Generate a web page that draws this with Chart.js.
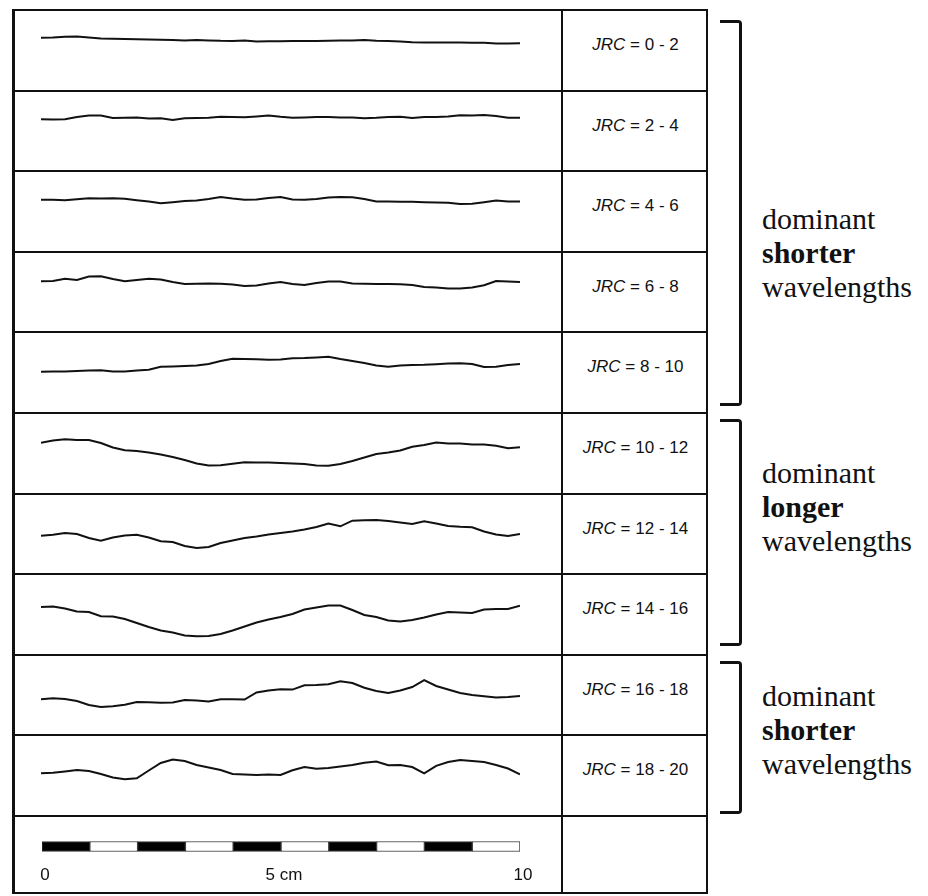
<!DOCTYPE html>
<html>
<head>
<meta charset="utf-8">
<script src="https://cdn.jsdelivr.net/npm/chart.js@4.4.1/dist/chart.umd.min.js"></script>
<style>
  body { margin: 0; background: #fff; width: 928px; height: 896px; position: relative; overflow: hidden; }
  .box { position: absolute; left: 12px; top: 9px; width: 696px; height: 885px; box-sizing: border-box;
         border: 2px solid #111; border-left-width: 3px; }
  .hline { position: absolute; left: 12px; width: 696px; height: 2px; background: #111; }
  .vline { position: absolute; left: 561px; top: 9px; width: 2px; height: 885px; background: #111; }
  .jrc { position: absolute; left: 563px; width: 145px; text-align: center; font: 17px "Liberation Sans", Arial, sans-serif;
         color: #111; line-height: 20px; white-space: pre; }
  .jrc i { font-style: italic; }
  .bracket { position: absolute; left: 720px; width: 19px; border: 3px solid #111; border-left: none;
             border-radius: 0 4px 4px 0; }
  .note { position: absolute; left: 762px; font: 30px "Liberation Serif", "Times New Roman", serif; line-height: 34px; color: #111; }
  .note b { font-weight: bold; }
  canvas { position: absolute; }
</style>
</head>
<body>
<div class="box"></div>
<div class="vline"></div>
<div id="fig"></div>
<script>
// distance along the profile, cm
const positions = [0, 0.25, 0.5, 0.75, 1, 1.25, 1.5, 1.75, 2, 2.25, 2.5, 2.75, 3, 3.25, 3.5, 3.75,
  4, 4.25, 4.5, 4.75, 5, 5.25, 5.5, 5.75, 6, 6.25, 6.5, 6.75, 7, 7.25, 7.5, 7.75,
  8, 8.25, 8.5, 8.75, 9, 9.25, 9.5, 9.75, 10];

// profile heights (figure px, up is positive)
const jrc0to2 = [2.3, 2.5, 3.2, 3.4, 2.6, 1.6, 1.2, 1.0, 0.8, 0.6, 0.3, 0.0, -0.5, 0.0, -0.4, -0.8, -0.9, -0.6, -1.4, -1.2,
  -1.2, -1.0, -1.1, -0.9, -0.8, -0.5, -0.6, 0.0, -0.8, -1.0, -1.4, -2.2, -2.5, -2.4, -2.5, -2.6, -2.8, -2.7, -3.4, -3.5, -3.3];
const jrc2to4 = [1.7, 1.5, 1.8, 4.0, 5.6, 5.5, 3.0, 3.3, 3.4, 2.6, 2.8, 1.0, 2.8, 3.0, 3.2, 4.2, 4.0, 3.8, 4.6, 5.6,
  4.2, 3.2, 3.6, 4.0, 4.0, 3.5, 3.6, 2.7, 3.2, 4.0, 4.2, 3.0, 4.0, 4.0, 4.6, 5.8, 5.6, 5.9, 5.0, 3.3, 3.3];
const jrc4to6 = [1.2, 1.3, 0.7, 1.8, 2.7, 2.6, 2.8, 2.2, 0.8, -0.5, -2.3, -1.2, 0.0, 0.4, 2.0, 3.9, 2.4, 1.2, 1.4, 3.0,
  4.0, 1.5, 1.2, 2.0, 3.6, 4.0, 3.8, 2.0, -0.6, -0.5, -0.7, -0.8, -1.2, -1.6, -1.8, -3.0, -2.8, -1.2, 0.6, -0.5, -0.5];
const jrc6to8 = [0.7, 1.0, 3.2, 2.0, 5.5, 5.8, 3.0, 0.8, 2.0, 3.2, 2.6, 0.0, -2.0, -1.8, -1.6, -1.8, -2.6, -4.0, -3.6, -1.5,
  0.0, -2.0, -3.0, -1.0, 0.6, 0.5, -1.5, -1.8, -2.0, -2.0, -2.3, -3.0, -5.0, -5.5, -6.4, -6.6, -5.5, -3.3, 1.0, 0.5, 0.0];
const jrc8to10 = [-9.7, -9.4, -9.5, -9.0, -8.6, -8.2, -9.4, -9.6, -8.6, -7.8, -4.8, -4.4, -4.0, -3.6, -2.0, 1.0, 3.3, 3.0, 2.8, 2.2,
  2.6, 3.8, 4.0, 4.6, 5.3, 3.0, 1.0, -1.0, -3.5, -4.8, -3.6, -3.0, -2.8, -2.2, -1.6, -1.3, -2.0, -5.0, -4.8, -3.0, -2.0];
const jrc10to12 = [0.3, 2.5, 3.8, 3.0, 3.0, 0.0, -4.5, -7.3, -8.0, -9.5, -11.5, -14.0, -17.0, -20.5, -22.5, -22.3, -20.8, -19.3, -19.6, -19.6,
  -20.0, -20.6, -21.0, -22.5, -22.8, -21.0, -18.0, -14.5, -11.0, -9.6, -7.5, -3.7, -2.0, 0.5, -0.5, -0.5, -1.4, -1.5, -2.8, -5.2, -4.3];
const jrc12to14 = [-11.7, -10.8, -9.0, -10.0, -14.0, -16.7, -13.5, -11.5, -10.7, -13.5, -17.3, -18.0, -22.0, -24.0, -23.0, -19.0, -16.5, -14.0, -12.5, -10.5,
  -9.0, -7.5, -5.5, -3.0, 0.5, -2.3, 3.3, 3.8, 4.0, 3.0, 1.5, 0.0, 2.7, 0.5, -2.0, -2.8, -3.3, -7.5, -10.5, -12.0, -10.0];
const jrc14to16 = [-3.0, -2.4, -4.5, -7.5, -8.0, -12.3, -12.5, -15.0, -19.0, -23.0, -26.5, -28.5, -31.5, -32.3, -32.0, -30.0, -26.5, -22.5, -18.5, -15.5,
  -13.0, -10.0, -5.5, -3.5, -1.5, -1.5, -6.0, -11.0, -13.0, -16.5, -17.5, -16.0, -13.5, -10.5, -8.0, -8.5, -9.0, -5.5, -5.0, -5.0, -1.7];
const jrc16to18 = [-14.3, -13.3, -14.0, -16.0, -20.0, -22.0, -21.3, -19.8, -17.0, -17.2, -17.7, -17.6, -15.0, -15.5, -16.6, -14.3, -14.3, -14.5, -7.5, -5.5,
  -4.3, -4.6, -0.3, 0.0, 0.7, 3.7, 2.0, -2.7, -6.0, -8.0, -5.5, -2.0, 4.8, -1.0, -4.5, -8.0, -10.0, -11.3, -12.5, -12.0, -11.0];
const jrc18to20 = [-8.3, -7.8, -6.5, -5.0, -6.0, -9.0, -12.5, -14.3, -13.3, -5.5, 2.0, 5.5, 4.0, 0.0, -2.5, -5.0, -9.0, -9.5, -10.0, -9.5,
  -10.0, -5.2, -2.0, -3.7, -3.0, -1.5, 0.0, 2.3, 3.5, -0.3, 0.0, -2.0, -8.3, -0.8, 3.0, 5.0, 4.0, 3.0, 0.0, -3.5, -9.3];

const profiles = [jrc0to2, jrc2to4, jrc4to6, jrc6to8, jrc8to10, jrc10to12, jrc12to14, jrc14to16, jrc16to18, jrc18to20];
const rangeLabels = ['0 - 2', '2 - 4', '4 - 6', '6 - 8', '8 - 10', '10 - 12', '12 - 14', '14 - 16', '16 - 18', '18 - 20'];

// scale bar
const scaleSegments = [1, 1, 1, 1, 1, 1, 1, 1, 1, 1];
const scaleColors = ['#000', '#fff', '#000', '#fff', '#000', '#fff', '#000', '#fff', '#000', '#fff'];
const scaleTicks = [0, 5, 10];
const scaleTickLabels = ['0', '5 cm', '10'];

// bracket groups: top/bottom of each bracket, middle word
const groupWords = ['shorter', 'longer', 'shorter'];
const groupBrackets = [[20, 406], [419, 646], [661, 814]];
const groupTextTop = [202, 456, 679];

const fig = document.getElementById('fig');
const top0 = 10;
const rowH = 80.6;
const plotLeft = 41;
const plotWidth = 479;

profiles.forEach((values, i) => {
  const rowTop = top0 + rowH * i;
  if (i > 0) {
    const line = document.createElement('div');
    line.className = 'hline';
    line.style.top = (rowTop - 1) + 'px';
    fig.appendChild(line);
  }

  const canvas = document.createElement('canvas');
  canvas.width = plotWidth;
  canvas.height = Math.round(rowH);
  canvas.style.left = plotLeft + 'px';
  canvas.style.top = rowTop + 'px';
  fig.appendChild(canvas);

  new Chart(canvas, {
    type: 'line',
    data: {
      datasets: [{
        data: values.map((v, k) => ({ x: positions[k], y: v })),
        borderColor: '#111',
        borderWidth: 2,
        pointRadius: 0,
        tension: 0,
        clip: false
      }]
    },
    options: {
      responsive: false,
      animation: false,
      events: [],
      layout: { padding: 0 },
      plugins: { legend: { display: false }, tooltip: { enabled: false } },
      scales: {
        x: { type: 'linear', min: 0, max: 10, display: false },
        y: { min: 30 - Math.round(rowH), max: 30, display: false }
      }
    }
  });

  const label = document.createElement('div');
  label.className = 'jrc';
  label.style.top = (rowTop + 35 - 10) + 'px';
  label.innerHTML = '<i>JRC</i> = ' + rangeLabels[i];
  fig.appendChild(label);
});

// line above the scale-bar row
const lastLine = document.createElement('div');
lastLine.className = 'hline';
lastLine.style.top = (top0 + rowH * 10 - 1) + 'px';
fig.appendChild(lastLine);

const scaleCanvas = document.createElement('canvas');
scaleCanvas.width = 540;
scaleCanvas.height = 60;
scaleCanvas.style.left = '22px';
scaleCanvas.style.top = '828px';
fig.appendChild(scaleCanvas);

new Chart(scaleCanvas, {
  type: 'bar',
  data: {
    labels: [''],
    datasets: scaleSegments.map((len, i) => ({
      data: [len],
      backgroundColor: scaleColors[i],
      borderColor: '#333',
      borderWidth: 1,
      borderSkipped: false,
      barThickness: 10
    }))
  },
  options: {
    indexAxis: 'y',
    responsive: false,
    animation: false,
    events: [],
    layout: { padding: { left: 20, right: 42, top: 7, bottom: 7 } },
    plugins: { legend: { display: false }, tooltip: { enabled: false } },
    scales: {
      x: {
        stacked: true, min: 0, max: 10,
        grid: { display: false, drawTicks: false },
        border: { display: false },
        afterBuildTicks: axis => { axis.ticks = scaleTicks.map(v => ({ value: v })); },
        ticks: {
          color: '#111',
          padding: 7,
          labelOffset: 3,
          maxRotation: 0,
          autoSkip: false,
          font: { family: '"Liberation Sans", Arial, sans-serif', size: 17 },
          callback: v => scaleTickLabels[scaleTicks.indexOf(v)]
        }
      },
      y: { stacked: true, display: false }
    }
  }
});

// brackets and notes on the right
groupWords.forEach((word, g) => {
  const br = document.createElement('div');
  br.className = 'bracket';
  br.style.top = groupBrackets[g][0] + 'px';
  br.style.height = (groupBrackets[g][1] - groupBrackets[g][0] - 6) + 'px';
  fig.appendChild(br);

  const note = document.createElement('div');
  note.className = 'note';
  note.style.top = groupTextTop[g] + 'px';
  note.innerHTML = 'dominant<br><b>' + word + '</b><br>wavelengths';
  fig.appendChild(note);
});
</script>
</body>
</html>
